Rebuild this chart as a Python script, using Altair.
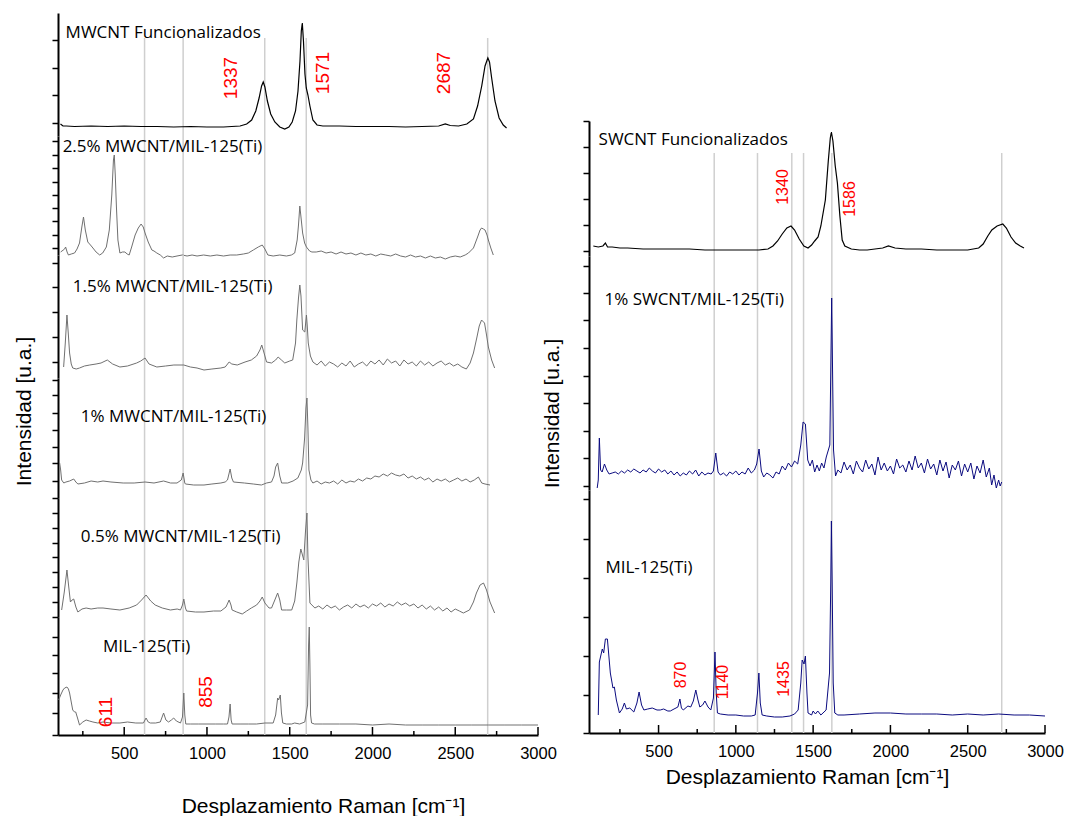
import altair as alt
import pandas as pd

# ---------------- spectra (x = Raman shift cm-1, y = intensity a.u.) ----------------
x_mw = [115,130,150,200,300,400,500,600,700,800,900,1000,1100,1150,1200,1240,1270,1295,1315,1330,1340,1350,1365,1385,1410,1440,1470,1495,1515,1535,1550,1562,1570,1576,1583,1592,1600,1610,1622,1640,1665,1700,1800,1900,2000,2100,2200,2300,2400,2440,2470,2520,2570,2610,2635,2660,2680,2697,2707,2720,2740,2765,2790,2810]
y_mw = [12,10,10,9.5,10,9.5,10,9.5,9.5,9,9.5,9,9,9.5,10,12,16,25,38,50,54,49,35,22,14,9,7,9,14,25,45,75,105,113,95,62,48,41,30,16,11,10,10,9.5,9.5,9.5,9,9.5,10,12,10.5,10,12,17,30,50,70,78,74,58,35,18,11,8]

x_25 = ([116,140,146,155,163,180,200,215,230,244,254,265,280,296,311,330,352,370,392,410,425,435,440,446,453,462,474,490,504,518,530,545,566,585,602,615,626,645,667,680,697,718,738,760,790,819,850,880,910,940,980,1020,1060,1100,1140,1180,1220,1250,1280,1310,1334,1350,1368,1400,1440,1480,1510,1530,1545,1553,1561,1568,1578,1590,1601,1620,1634]
        + [1660,1690,1720,1750,1780,1810,1840,1870,1900,1930,1960,1990,2020,2050,2080,2110,2140,2170,2200,2230,2260,2290,2320,2350,2380,2410,2440,2470,2500,2530,2560,2580]
        + [2610,2635,2650,2659,2670,2680,2692,2700,2715,2730])
y_25 = ([3,6,8,3,0,1,2,6,12,28,38,25,13,10,7,3,0,2,8,25,60,95,100,80,48,15,2,3,3,1,0,8,20,27,31,28,22,13,5,4,2,0,-3,-1,-2,-1,0,-1,0,-1,0,-1,0,-1,0,0,1,2,5,8,10,6,0,-1,0,-1,0,2,15,30,49,38,22,12,8,4,3]
        + [3,4,2,3,1,3,1,2,0,2,0,1,-1,1,0,-1,1,-1,-2,0,-2,-1,-3,-1,-3,-2,-4,-2,-1,-2,0,2]
        + [7,18,25,27,26,25,20,15,7,0])

x_15 = ([134,144,154,162,170,180,189,210,230,260,292,330,360,398,430,474,520,575,600,626,650,697,750,800,860,900,940,982,1030,1084,1110,1134,1150,1183,1230,1268,1300,1320,1331,1345,1360,1390,1415,1430,1450,1470,1500,1518,1535,1543,1553,1561,1568,1578,1591,1601,1606,1612,1625]
        + [1640,1665,1690,1715,1740,1765,1790,1815,1840,1865,1890,1915,1940,1965,1990,2015,2040,2065,2090,2115,2140,2165,2190,2215,2240,2265,2290,2315,2340,2365,2390,2415,2440,2465,2490,2515,2540,2567]
        + [2590,2610,2630,2645,2659,2677,2690,2700,2720,2738])
y_15 = ([11,35,63,45,25,14,10,9,10,12,13,14,15,18,14,11,12,15,17,20,14,11,12,13,13,11,10,8,9,10,11,16,14,13,16,18,22,28,33,25,16,15,18,21,18,15,17,18,35,58,80,93,82,48,46,63,52,35,22]
        + [16,13,17,12,16,14,11,15,12,17,11,14,16,12,17,14,18,13,19,15,17,12,18,14,16,12,17,13,16,12,15,17,13,15,12,14,11,9]
        + [15,25,40,52,58,55,42,31,18,10])

x_10 = ([110,116,122,135,148,170,195,208,220,260,300,340,372,420,494,560,626,680,738,780,819,845,856,866,870,920,982,1030,1084,1110,1124,1140,1150,1160,1226,1280,1329,1360,1390,1405,1415,1427,1440,1451,1488,1520,1549,1570,1578,1590,1598,1604,1610,1616,1628]
        + [1640,1665,1690,1715,1740,1765,1790,1815,1840,1865,1890,1915,1940,1965,1990,2015,2040,2065,2090,2115,2140,2165,2190,2215,2240,2265,2290,2315,2340,2365,2390,2415,2440,2465,2490,2515,2540,2565,2590,2615,2640]
        + [2660,2680,2710])
y_10 = ([35,28,18,15,16,17,19,16,14,15,17,16,17,16,15,15,16,15,17,15,15,18,25,15,14,13,13,14,15,16,18,29,20,16,15,14,13,15,16,22,31,35,22,15,15,17,20,28,35,60,90,100,70,28,18]
        + [15,17,14,16,15,17,14,18,15,17,16,19,17,20,19,22,21,24,22,25,23,22,24,20,22,19,21,18,20,16,19,17,19,16,18,20,17,19,16,18,21]
        + [15,14,13])

x_05 = ([122,138,154,165,175,185,195,208,220,245,270,300,340,372,420,474,530,575,605,632,660,687,730,779,820,840,852,860,870,877,930,982,1040,1084,1115,1134,1145,1152,1180,1213,1240,1268,1300,1320,1334,1350,1375,1390,1410,1427,1440,1451,1480,1512,1530,1543,1555,1567,1577,1585,1595,1604,1610,1622]
        + [1652,1675,1700,1725,1750,1775,1800,1825,1850,1875,1900,1925,1950,1975,2000,2025,2050,2075,2100,2125,2150,2175,2200,2225,2250,2275,2300,2325,2350,2375,2400,2425,2450,2475,2500,2525,2549]
        + [2586,2610,2628,2650,2671,2689,2710,2738])
y_05 = ([7,25,47,30,15,17,18,10,5,8,9,8,9,9,8,7,9,12,17,22,16,12,9,7,8,7,12,18,9,6,5,5,6,6,10,17,12,7,5,3,6,9,12,16,20,14,9,9,17,24,17,7,7,7,16,34,55,68,62,57,85,104,60,14]
        + [9,11,8,12,9,11,7,10,12,9,13,10,12,9,13,11,14,10,13,11,15,12,14,11,13,9,12,8,11,7,10,6,9,5,8,6,4]
        + [7,15,24,32,34,27,15,4])

x_mil = [104,116,130,140,154,163,170,180,189,200,207,218,230,250,270,290,311,340,372,420,474,520,570,616,632,645,658,690,718,738,752,768,785,799,815,840,852,860,866,872,900,950,1000,1050,1100,1124,1133,1140,1146,1152,1200,1250,1300,1350,1400,1415,1427,1433,1443,1450,1458,1480,1512,1530,1560,1591,1608,1614,1618,1622,1626,1632,1650,1700,1800,1900,2000,2100,2200,2300,2400,2500,2600,2700,2800,2900,3000]
y_mil = [35,40,45,47,48,46,42,33,25,23,23,17,10,13,15,14,13,12,13,12,12,13,12,12,17,13,12,12,13,22,15,13,15,17,14,12,18,42,20,11,11,11,11,11,11,11,18,31,15,11,11,11,11,12,12,20,37,35,40,22,12,11,11,12,11,13,30,90,108,70,20,12,11,11,11,11,10,11,10,10,10,10,10,10,10,10,10]

x_sw = [78,110,140,156,170,200,250,300,400,500,600,700,800,900,1000,1100,1150,1208,1240,1270,1300,1330,1357,1380,1410,1440,1467,1490,1510,1532,1550,1579,1598,1611,1618,1628,1643,1657,1673,1688,1705,1747,1800,1850,1900,1950,1987,2030,2100,2200,2300,2400,2500,2571,2600,2630,2656,2690,2727,2750,2780,2810,2840,2864]
y_sw = [10,9,10,13,9,9,8,8,7,7,7,7,6,6,6,6,6,7,10,15,22,28,30,26,17,10,8,11,15,19,30,56,95,118,124,115,90,73,40,16,10,7,6,6,7,8,10,8,7,7,6,6,6,8,12,20,26,30,32,28,19,13,10,8]

x_sw1 = [103,110,117,125,135,150,165,180,200,220,240,260,280,300,320,340,360,380,400,420,440,460,480,500,520,540,560,580,600,620,640,660,680,700,720,740,760,780,800,820,840,855,870,885,900,920,940,960,980,1000,1020,1040,1060,1080,1100,1120,1135,1150,1165,1180,1200,1220,1240,1260,1280,1300,1320,1340,1360,1380,1400,1420,1435,1450,1465,1480,1495,1510,1525,1540,1555,1570,1585,1608,1620,1632,1645,1660,1680,1700,1720,1740,1760,1780,1800,1820,1840,1860,1880,1900,1920,1940,1960,1980,2000,2020,2040,2060,2080,2100,2120,2140,2160,2180,2200,2220,2240,2260,2280,2300,2320,2340,2360,2380,2400,2420,2440,2460,2480,2500,2520,2540,2560,2580,2600,2620,2640,2655,2670,2685,2700,2710,2720]
y_sw1 = [2,10,52,20,18,26,20,16,17,18,16,19,17,20,18,21,19,17,20,18,22,19,17,21,18,20,16,19,15,18,14,17,15,19,16,20,14,18,15,17,16,19,37,18,15,17,14,18,16,19,15,18,16,22,17,20,26,41,19,13,17,15,12,18,16,24,20,27,23,29,26,45,68,66,30,24,30,18,25,19,27,22,33,45,192,40,14,20,17,28,20,25,16,29,22,18,30,21,26,15,33,20,27,19,24,16,31,22,25,18,29,20,34,22,27,17,31,21,26,15,30,19,28,12,25,20,29,14,26,18,27,11,24,17,30,13,22,5,15,2,10,4,8]

x_mil2 = [110,117,136,145,156,169,188,205,214,227,247,265,279,292,314,340,360,374,390,405,430,459,490,511,533,560,576,600,625,638,648,660,690,708,725,741,755,767,785,800,820,838,855,865,873,881,900,950,1000,1050,1100,1125,1140,1149,1158,1170,1200,1250,1300,1350,1380,1403,1420,1429,1441,1450,1460,1467,1490,1500,1515,1530,1550,1584,1606,1614,1618,1623,1630,1640,1660,1700,1800,1900,2000,2100,2200,2300,2400,2500,2600,2700,2800,2900,3000]
y_mil2 = [18,71,84,80,94,94,60,45,46,33,20,24,30,24,25,21,30,41,28,23,24,25,23,23,24,22,22,24,26,34,25,23,27,26,32,43,33,26,28,32,26,23,35,81,40,20,19,18,18,17,17,18,40,60,30,18,17,16,16,17,19,23,50,73,69,77,40,20,18,22,19,22,18,23,60,150,212,150,50,20,18,18,19,20,20,19,19,19,18,19,18,19,18,18,17]

# reference lines (cm-1)
lines_left = [623, 856, 1349, 1600, 2696]
lines_right = [860, 1140, 1362, 1438, 1621, 2720]

# sample names: (text, x, y)
names_left = [("MWCNT Funcionalizados", 146, 103), ("2.5% MWCNT/MIL-125(Ti)", 128, 108),
              ("1.5% MWCNT/MIL-125(Ti)", 189, 91), ("1% MWCNT/MIL-125(Ti)", 238, 81),
              ("0.5% MWCNT/MIL-125(Ti)", 238, 80), ("MIL-125(Ti)", 372, 88)]
names_right = [("SWCNT Funcionalizados", 112, 116), ("1% SWCNT/MIL-125(Ti)", 150, 190),
               ("MIL-125(Ti)", 156, 165)]

# peak annotations (text, x, y)
peaks_mw = [("1337", 1146, 58), ("1571", 1700, 63), ("2687", 2433, 63)]
peaks_mil = [("611", 390, 23), ("855", 994, 43)]
peaks_sw = [("1340", 1304, 69), ("1586", 1741, 57)]
peaks_mil2 = [("870", 642, 58), ("1140", 917, 51), ("1435", 1311, 54)]

major_ticks = [500, 1000, 1500, 2000, 2500, 3000]
minor_ticks = [250, 750, 1250, 1750, 2250, 2750]

# ---------------- styling ----------------
AX_FONT = "Liberation Sans"
LBL_FONT = "Open Sans"
GRAY = "#707070"
NAVY = "#0b0b80"
RULE = "#cfcfcf"
XTITLE = "Desplazamiento Raman [cm⁻¹]"
YTITLE = "Intensidad [u.a.]"


def panel(xs, ys, color, width, height, xdom, yticks, rules, names, peaks,
          red_size, rule_top=None, bottom=None, ytitle=None, sw=1.0):
    xscale = alt.Scale(domain=xdom, nice=False, zero=False)
    yscale = alt.Scale(domain=[0, height], nice=False, zero=False)
    if bottom is None:
        xaxis = None
    else:
        xaxis = alt.Axis(values=major_ticks, format="d", ticks=False, tickSize=0, labelPadding=10,
                         labelFont=AX_FONT, labelFontSize=16.5, labelColor="black",
                         labelFlush=False, labelOverlap=False,
                         domainColor="black", domainWidth=2, grid=False,
                         title=XTITLE, titleFont=AX_FONT, titleFontSize=21,
                         titleFontWeight="normal", titleColor="black",
                         titleX=bottom[0], titleY=bottom[1], titleAlign="center",
                         titleBaseline="middle")
    ykw = dict(values=yticks, labels=False, tickSize=6, tickWidth=1.5, tickColor="black",
               domainColor="black", domainWidth=2, grid=False)
    if ytitle is None:
        yaxis = alt.Axis(title=None, **ykw)
    else:
        yaxis = alt.Axis(title=YTITLE, titleFont=AX_FONT, titleFontSize=21,
                         titleFontWeight="normal", titleColor="black", titleAngle=270,
                         titleX=ytitle[0], titleY=ytitle[1], titleAlign="center",
                         titleBaseline="middle", **ykw)

    def X():
        return alt.X("x:Q", scale=xscale, axis=xaxis)

    def Y():
        return alt.Y("y:Q", scale=yscale, axis=yaxis)

    layers = []
    rdf = pd.DataFrame({"x": rules})
    if rule_top is None:
        layers.append(alt.Chart(rdf).mark_rule(color=RULE, strokeWidth=1.5).encode(x=X()))
    else:
        layers.append(alt.Chart(rdf).mark_rule(color=RULE, strokeWidth=1.5).encode(
            x=X(), y=alt.value(rule_top), y2=alt.value(height)))
    ldf = pd.DataFrame({"x": xs, "y": ys})
    layers.append(alt.Chart(ldf).mark_line(color=color, strokeWidth=sw).encode(
        x=X(), y=Y(), order="x:Q"))
    ndf = pd.DataFrame(names, columns=["t", "x", "y"])
    layers.append(alt.Chart(ndf).mark_text(align="left", baseline="middle", font=LBL_FONT,
                                           fontSize=17, color="black").encode(
        x=X(), y=Y(), text="t:N"))
    if peaks:
        pdf = pd.DataFrame(peaks, columns=["t", "x", "y"])
        layers.append(alt.Chart(pdf).mark_text(angle=270, align="center", baseline="middle",
                                               font=AX_FONT, fontSize=red_size, color="red").encode(
            x=X(), y=Y(), text="t:N"))
    if bottom is not None:
        layers.append(alt.Chart(pd.DataFrame({"x": major_ticks})).mark_rule(
            color="black", strokeWidth=1.5).encode(x=X(), y=alt.value(height - 8), y2=alt.value(height)))
        layers.append(alt.Chart(pd.DataFrame({"x": minor_ticks})).mark_rule(
            color="black", strokeWidth=1.5).encode(x=X(), y=alt.value(height - 4), y2=alt.value(height)))
    return alt.layer(*layers).properties(width=width, height=height)


LW, RW = 480, 456
LD, RD = [100, 3000], [50, 3000]

p1 = panel(x_mw, y_mw, "black", LW, 123, LD, [13, 41, 68, 96], lines_left,
           [names_left[0]], peaks_mw, 19, rule_top=25, sw=1.2)
p2 = panel(x_25, y_25, GRAY, LW, 119, LD, [7, 20, 34, 47, 60, 73, 87, 100, 114], lines_left,
           [names_left[1]], [], 19)
p3 = panel(x_15, y_15, GRAY, LW, 123, LD, [16, 41, 66, 91, 115], lines_left,
           [names_left[2]], [], 19)
p4 = panel(x_10, y_10, GRAY, LW, 120, LD, [0, 17, 35, 51, 68, 85, 103, 118], lines_left,
           [names_left[3]], [], 19, ytitle=(-34, 33))
p5 = panel(x_05, y_05, GRAY, LW, 119, LD, [0, 15, 30, 45, 60, 74, 89, 104], lines_left,
           [names_left[4]], [], 19)
p6 = panel(x_mil, y_mil, GRAY, LW, 118, LD, [0, 22, 42, 62, 80, 98], lines_left,
           [names_left[5]], peaks_mil, 19, bottom=(265, 71))

spacer = alt.Chart(pd.DataFrame({"x": [0], "y": [0]})).mark_point(opacity=0).encode(
    x=alt.X("x:Q", axis=None), y=alt.Y("y:Q", axis=None)).properties(width=RW, height=108)
r1 = panel(x_sw, y_sw, "black", RW, 135, RD, [5, 31, 57, 83, 109, 135], lines_right,
           [names_right[0]], peaks_sw, 16, rule_top=32, sw=1.2)
r2 = panel(x_sw1, y_sw1, NAVY, RW, 234, RD, [4, 32, 59, 87, 114, 142, 170, 197, 224], lines_right,
           [names_right[1]], [], 16, ytitle=(-37, 157))
r3 = panel(x_mil2, y_mil2, NAVY, RW, 243, RD, [0, 38, 77, 116, 155, 194, 234], lines_right,
           [names_right[2]], peaks_mil2, 16, bottom=(218, 44))

left = alt.vconcat(p1, p2, p3, p4, p5, p6, spacing=0, bounds="flush")
right = alt.vconcat(spacer, r1, r2, r3, spacing=0, bounds="flush")

chart = alt.hconcat(left, right, spacing=-16, bounds="full").properties(
    padding={"left": 12, "top": 13, "right": 0, "bottom": 0}
).configure_view(stroke=None)

chart.save("out.html", embed_options={"renderer": "svg", "actions": False})
